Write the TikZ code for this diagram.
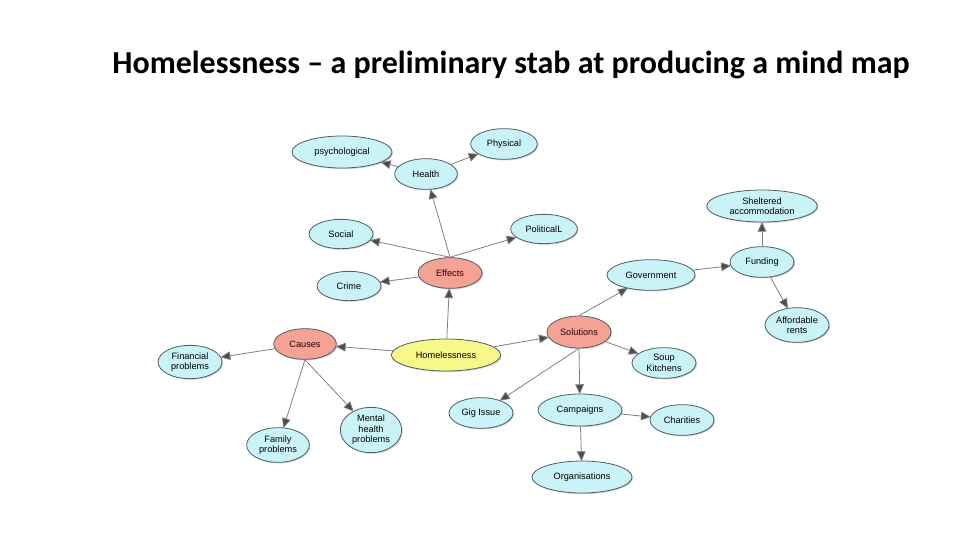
\documentclass[tikz,border=0pt]{standalone}
\usepackage{fontspec}
\setmainfont{Liberation Sans}
\newfontfamily\titlefont{Carlito}
\usetikzlibrary{shapes.geometric,arrows.meta,shadows}
\definecolor{leafcyan}{HTML}{C9F3F7}
\definecolor{hubred}{HTML}{F4A294}
\definecolor{rootyellow}{HTML}{F7F78A}
\definecolor{rimgray}{HTML}{4E5E64}
\tikzset{
  bubble/.style={ellipse, draw=rimgray, line width=0.6pt, inner sep=0pt,
    align=center, font=\fontsize{6.9}{7.8}\selectfont,
    drop shadow={shadow xshift=0.8pt, shadow yshift=-0.8pt, fill=black!35}},
  leaf/.style={bubble, fill=leafcyan},
  hub/.style={bubble, fill=hubred, text=black!80!red},
  root/.style={bubble, fill=rootyellow},
  link/.style={draw=black!50, line width=0.6pt,
    -{Triangle[length=7.5pt,width=6.5pt,fill=black!70]}, shorten >=-0.5pt}
}
\begin{document}
\begin{tikzpicture}[x=0.75pt, y=-0.75pt]
  \useasboundingbox (0,0) rectangle (960,540);
  \node[font=\titlefont\bfseries\fontsize{24}{28}\selectfont] (title) at (511,65)
    {Homelessness – a preliminary stab at producing a mind map};
  % centre and the three branches
  \node[root, minimum width=82pt, minimum height=24pt] (home) at (446,355) {Homelessness};
  \node[hub, minimum width=48pt, minimum height=23pt] (effects) at (450,273) {Effects};
  \node[hub, minimum width=47pt, minimum height=23pt] (causes) at (305,344) {Causes};
  \node[hub, minimum width=48pt, minimum height=24pt] (solutions) at (579,332) {Solutions};
  % leaves
  \foreach \n/\x/\y/\w/\h/\t in {
      psych/342/152/75/24/psychological, physical/504/144/50/23/Physical,
      health/426/174/47/23/Health, social/341/234/48/22/Social,
      political/544/229/50/22/PoliticalL, crime/349/286/48/22/Crime,
      financial/190/362/48/25/{Financial\\problems},
      family/278/445/47/26/{Family\\problems},
      mental/371/430/46/34/{Mental\\health\\problems},
      gig/481/413/48/23/Gig Issue, soup/664/363/48/23/{Soup\\Kitchens},
      campaigns/580/410/63/24/Campaigns, charities/682/420/48/23/Charities,
      orgs/582/477/75/24/Organisations, gov/651/275/66/23/Government,
      funding/762/262/48/23/Funding,
      sheltered/762/206/83/24/{Sheltered\\accommodation},
      rents/797/325/48/26/{Affordable\\rents}} {
    \node[leaf, minimum width=\w pt, minimum height=\h pt] (\n) at (\x,\y) {\t};
  }
  % connectors
  \foreach \a/\b in {home/effects, home/causes, home/solutions,
      effects.north/health, effects.north/social, effects.north/political,
      effects/crime, health/psych, health/physical,
      causes/financial, causes.south/family, causes.south/mental,
      solutions.north/gov, solutions/soup, solutions.south/gig,
      solutions.south/campaigns, campaigns/charities, campaigns/orgs,
      gov/funding, funding/sheltered, funding/rents} {
    \draw[link] (\a) -- (\b);
  }
\end{tikzpicture}
\end{document}
